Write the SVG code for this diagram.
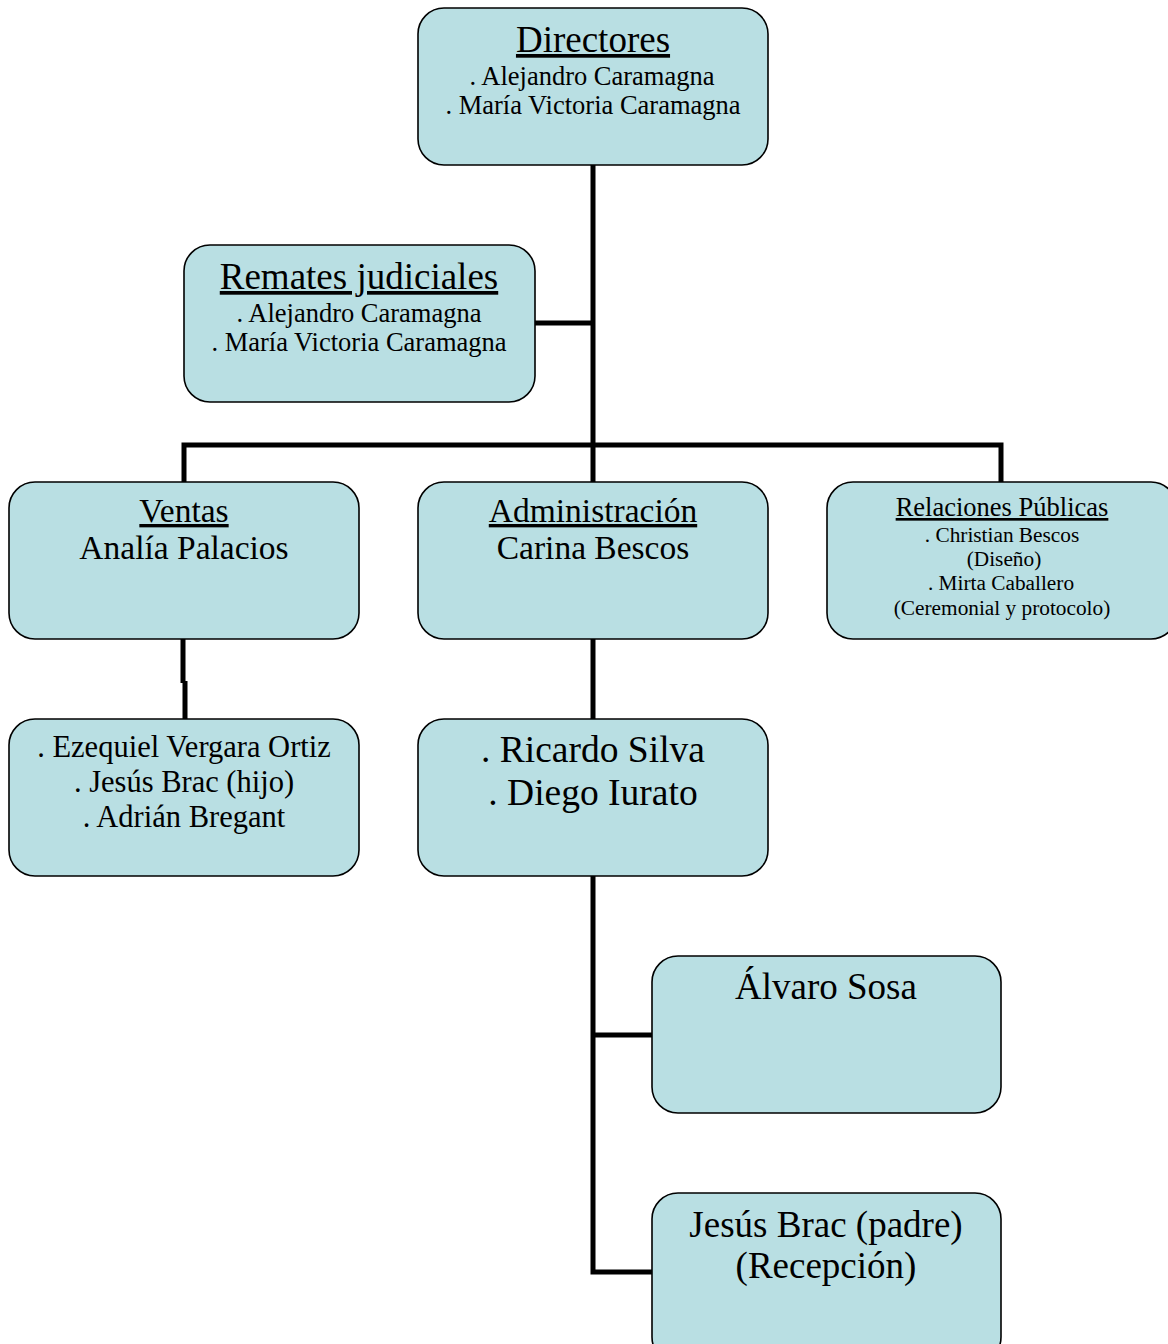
<svg xmlns="http://www.w3.org/2000/svg" width="1168" height="1344" viewBox="0 0 1168 1344">
<style>
.box{fill:#b9dfe3;stroke:#000;stroke-width:1.6}
text{font-family:"Liberation Serif","Times New Roman",serif;fill:#000;text-anchor:middle}
.u{text-decoration:underline}
.c{fill:none;stroke:#000;stroke-width:5}
</style>
<rect width="1168" height="1344" fill="#fff"/>
<g id="connectors">
<path class="c" d="M593,165 V482"/>
<path class="c" d="M535,323 H593"/>
<path class="c" d="M184,482 V445 H1001 V482"/>
<path class="c" d="M183,639 V683 M185,681 V719"/>
<path class="c" d="M593,639 V719"/>
<path class="c" d="M593,876 V1272 H652"/>
<path class="c" d="M593,1035 H652"/>
</g>
<g id="directores">
<rect class="box" x="418" y="8" width="350" height="157" rx="26"/>
<text x="593" y="52" font-size="37" class="u">Directores</text>
<text x="592" y="85" font-size="26.5">. Alejandro Caramagna</text>
<text x="593" y="114" font-size="26.5">. María Victoria Caramagna</text>
</g>
<g id="remates">
<rect class="box" x="184" y="245" width="351" height="157" rx="26"/>
<text x="359" y="289" font-size="37" class="u">Remates judiciales</text>
<text x="359" y="322" font-size="26.5">. Alejandro Caramagna</text>
<text x="359" y="351" font-size="26.5">. María Victoria Caramagna</text>
</g>
<g id="ventas">
<rect class="box" x="9" y="482" width="350" height="157" rx="26"/>
<text x="184" y="522" font-size="33.5" class="u">Ventas</text>
<text x="184" y="559" font-size="33.5">Analía Palacios</text>
</g>
<g id="administracion">
<rect class="box" x="418" y="482" width="350" height="157" rx="26"/>
<text x="593" y="522" font-size="33.5" class="u">Administración</text>
<text x="593" y="559" font-size="33.5">Carina Bescos</text>
</g>
<g id="relaciones">
<rect class="box" x="827" y="482" width="350" height="157" rx="26"/>
<text x="1002" y="516" font-size="26.5" class="u">Relaciones Públicas</text>
<text x="1002" y="542" font-size="21.3">. Christian Bescos</text>
<text x="1004" y="566" font-size="21.3">(Diseño)</text>
<text x="1001" y="590" font-size="21.3">. Mirta Caballero</text>
<text x="1002" y="615" font-size="21.3">(Ceremonial y protocolo)</text>
</g>
<g id="vendedores">
<rect class="box" x="9" y="719" width="350" height="157" rx="26"/>
<text x="184" y="757" font-size="30.5">. Ezequiel Vergara Ortiz</text>
<text x="184" y="792" font-size="30.5">. Jesús Brac (hijo)</text>
<text x="184" y="827" font-size="30.5">. Adrián Bregant</text>
</g>
<g id="administrativos">
<rect class="box" x="418" y="719" width="350" height="157" rx="26"/>
<text x="593" y="762" font-size="37.5">. Ricardo Silva</text>
<text x="593" y="805" font-size="37.5">. Diego Iurato</text>
</g>
<g id="alvaro">
<rect class="box" x="652" y="956" width="349" height="157" rx="26"/>
<text x="826" y="999" font-size="37">Álvaro Sosa</text>
</g>
<g id="recepcion">
<rect class="box" x="652" y="1193" width="349" height="170" rx="26"/>
<text x="826" y="1237" font-size="37">Jesús Brac (padre)</text>
<text x="826" y="1278" font-size="37">(Recepción)</text>
</g>
</svg>
